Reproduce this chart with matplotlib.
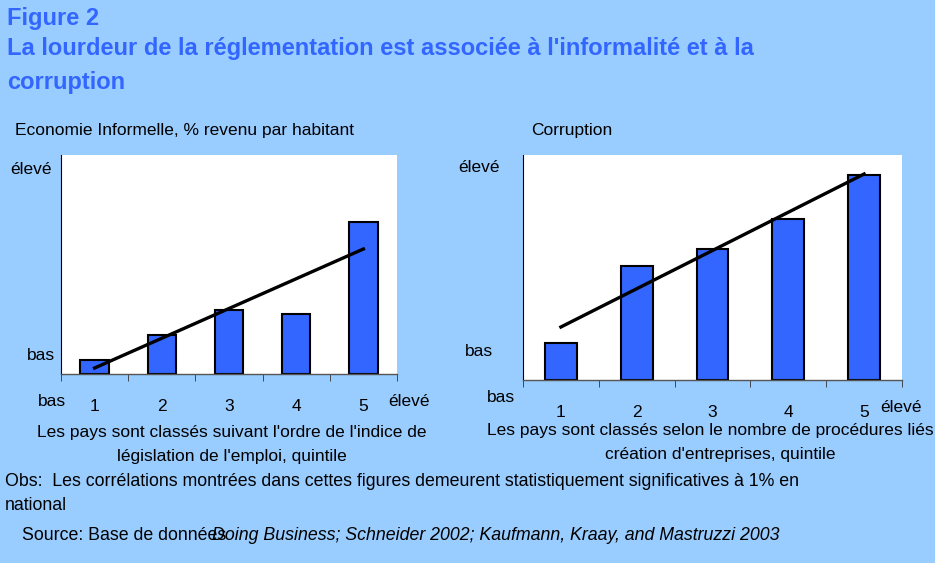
import matplotlib
matplotlib.use("Agg")
import matplotlib.pyplot as plt
import numpy as np

# data (arbitrary units, axis 0 = "bas")
quintiles = [1, 2, 3, 4, 5]
tick_labels = ["1", "2", "3", "4", "5"]
informal_vals = [14, 39, 64, 60, 152]
informal_trend = [6, 125]          # fitted line at quintile 1 and 5
corruption_vals = [37, 114, 131, 161, 205]
corruption_trend = [53, 206]

BG = "#99CCFF"
BAR = "#3366FF"
TITLE = "#3366FF"
W, H = 935, 563
FS = 12.5

plt.rcParams["font.family"] = ["Liberation Sans", "DejaVu Sans"]

fig = plt.figure(figsize=(W / 100, H / 100), dpi=100, facecolor=BG)


def px(x, y):
    return x / W, 1 - y / H


def add_panel(box, vals, trend, ymax):
    x0, y_top, x1, y_bot = box
    ax = fig.add_axes([x0 / W, 1 - y_bot / H, (x1 - x0) / W, (y_bot - y_top) / H])
    ax.set_facecolor("white")
    ax.bar(quintiles, vals, width=0.42, color=BAR, edgecolor="black", linewidth=1.5, zorder=2)
    ax.plot([quintiles[0], quintiles[-1]], trend, color="black", lw=2.4, zorder=3)
    ax.set_xlim(0.5, 5.5)
    ax.set_ylim(0, ymax)
    ax.set_yticks([])
    ax.set_xticks(quintiles)
    ax.set_xticklabels(tick_labels, fontsize=FS)
    ax.tick_params(axis="x", which="major", length=0, pad=18)
    ax.set_xticks(np.arange(0.5, 6, 1), minor=True)
    ax.tick_params(axis="x", which="minor", length=5, direction="out", color="#333333")
    for s in ["top", "right"]:
        ax.spines[s].set_visible(False)
    ax.spines["left"].set_color("black")
    ax.spines["bottom"].set_color("#555555")
    ax.spines["bottom"].set_linewidth(1.0)
    return ax


add_panel((61, 155, 397, 374), informal_vals, informal_trend, 219)
add_panel((523, 155, 902, 380), corruption_vals, corruption_trend, 225)

# titles
tkw = dict(fontsize=17, fontweight="bold", color=TITLE, va="center")
fig.text(*px(7, 18), "Figure 2", **tkw)
fig.text(*px(7, 49), "La lourdeur de la réglementation est associée à l'informalité et à la", **tkw)
fig.text(*px(7, 83), "corruption", **tkw)

fig.text(*px(15, 131), "Economie Informelle, % revenu par habitant", fontsize=FS, va="center")
fig.text(*px(531, 130), "Corruption", fontsize=FS, va="center")

# axis end labels
fig.text(*px(10, 170), "élevé", fontsize=FS, va="center")
fig.text(*px(27, 356), "bas", fontsize=FS, va="center")
fig.text(*px(38, 402), "bas", fontsize=FS, va="center")
fig.text(*px(388, 402), "élevé", fontsize=FS, va="center")

fig.text(*px(458, 168), "élevé", fontsize=FS, va="center")
fig.text(*px(465, 352), "bas", fontsize=FS, va="center")
fig.text(*px(487, 398), "bas", fontsize=FS, va="center")
fig.text(*px(880, 408), "élevé", fontsize=FS, va="center")

# captions
fig.text(*px(232, 433), "Les pays sont classés suivant l'ordre de l'indice de", fontsize=FS,
         ha="center", va="center")
fig.text(*px(232, 456), "législation de l'emploi, quintile", fontsize=FS, ha="center", va="center")
fig.text(*px(487, 431), "Les pays sont classés selon le nombre de procédures liés",
         fontsize=FS, va="center")
fig.text(*px(720, 454), "création d'entreprises, quintile", fontsize=FS, ha="center", va="center")

# notes
NS = 12.8
fig.text(*px(5, 482), "Obs:  Les corrélations montrées dans cettes figures demeurent statistiquement significatives à 1% en",
         fontsize=NS, va="center")
fig.text(*px(5, 505), "national", fontsize=NS, va="center")
fig.text(*px(22, 536), "Source: Base de données", fontsize=NS, va="center")
fig.text(*px(212, 536), "Doing Business; Schneider 2002; Kaufmann, Kraay, and Mastruzzi 2003",
         fontsize=NS, va="center", style="italic")

fig.savefig("out.png", dpi=100, facecolor=BG)
